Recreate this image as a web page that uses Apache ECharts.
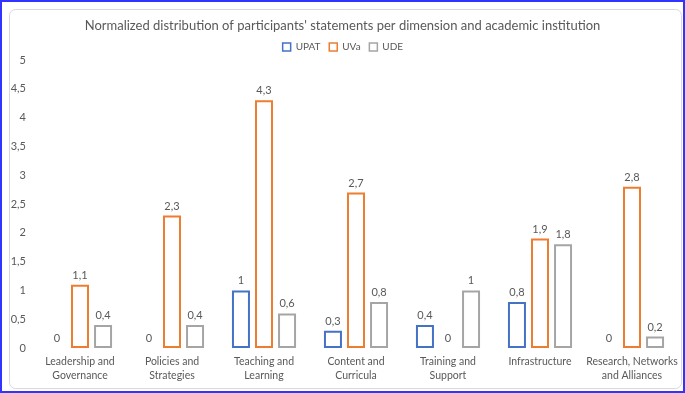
<!DOCTYPE html>
<html>
<head>
<meta charset="utf-8">
<script src="https://cdn.jsdelivr.net/npm/echarts@6/dist/echarts.min.js"></script>
<style>
  html, body { margin: 0; padding: 0; background: #fff; }
  #wrap { width: 685px; height: 393px; box-sizing: border-box; border: 2px solid #3333ff; }
  #chart { width: 681px; height: 389px; }
</style>
</head>
<body>
<div id="wrap"><div id="chart"></div></div>
<script>
const dimensions = [
  "Leadership and\nGovernance",
  "Policies and\nStrategies",
  "Teaching and\nLearning",
  "Content and\nCurricula",
  "Training and\nSupport",
  "Infrastructure",
  "Research, Networks\nand Alliances",
];
const upat = [0, 0, 1, 0.3, 0.4, 0.8, 0];
const uva = [1.1, 2.3, 4.3, 2.7, 0, 1.9, 2.8];
const ude = [0.4, 0.4, 0.6, 0.8, 1, 1.8, 0.2];
const yTicks = { min: 0, max: 5, interval: 0.5 };

const textColor = "#595959";
const font = "Lato";

// zero bars get no outline, like the original
function toItems(list) {
  return list.map((v) => (v === 0 ? { value: v, itemStyle: { borderWidth: 0 } } : v));
}
function commaFmt(v) {
  return String(v).replace(".", ",");
}
function makeSeries(name, color, list) {
  return {
    name: name,
    type: "bar",
    barWidth: 18,
    barGap: "28%",
    itemStyle: { color: "#fff", borderColor: color, borderWidth: 2 },
    label: {
      show: true,
      position: "top",
      distance: 4,
      color: textColor,
      fontFamily: font,
      fontSize: 11,
      formatter: (p) => commaFmt(p.value),
    },
    data: toItems(list),
  };
}

let myChart = echarts.init(document.getElementById("chart"));
myChart.setOption({
  animation: false,
  backgroundColor: "#fff",
  title: {
    text: "Normalized distribution of participants' statements per dimension and academic institution",
    left: "center",
    top: 12,
    textStyle: { color: textColor, fontFamily: font, fontSize: 13, fontWeight: "normal" },
  },
  legend: {
    top: 35,
    left: "center",
    icon: "rect",
    itemWidth: 8,
    itemHeight: 8,
    itemGap: 8,
    itemStyle: { borderWidth: 1.5 },
    textStyle: { color: textColor, fontFamily: font, fontSize: 10 },
    data: ["UPAT", "UVa", "UDE"],
  },
  graphic: [
    {
      type: "rect",
      left: 5,
      top: 5,
      shape: { width: 672, height: 379, r: 6 },
      style: { fill: "none", stroke: "#d9d9d9", lineWidth: 1 },
      silent: true,
    },
  ],
  grid: { left: 32, right: 5, top: 58, bottom: 43 },
  xAxis: {
    type: "category",
    data: dimensions,
    axisLine: { show: false },
    axisTick: { show: false },
    axisLabel: {
      interval: 0,
      color: textColor,
      fontFamily: font,
      fontSize: 10.5,
      lineHeight: 14,
      margin: 7,
    },
  },
  yAxis: {
    type: "value",
    min: yTicks.min,
    max: yTicks.max,
    interval: yTicks.interval,
    axisLine: { show: false },
    axisTick: { show: false },
    splitLine: { show: false },
    axisLabel: {
      color: textColor,
      fontFamily: font,
      fontSize: 11,
      margin: 8,
      formatter: (v) => commaFmt(v),
    },
  },
  series: [
    makeSeries("UPAT", "#4472c4", upat),
    makeSeries("UVa", "#ed7d31", uva),
    makeSeries("UDE", "#a5a5a5", ude),
  ],
});
</script>
</body>
</html>
